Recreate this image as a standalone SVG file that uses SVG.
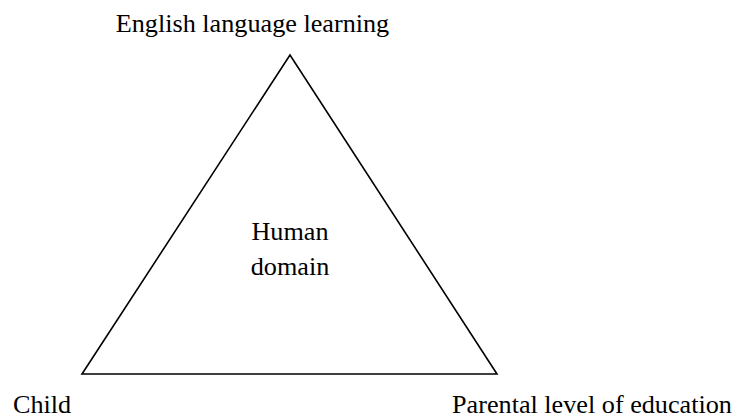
<svg xmlns="http://www.w3.org/2000/svg" width="736" height="419" viewBox="0 0 736 419">
<style>
text{font-family:"Liberation Serif","Times New Roman",serif;font-size:26.2px;fill:#000}
.edge{fill:none;stroke:#000;stroke-width:1.6;stroke-linejoin:miter}
</style>
<rect width="736" height="419" fill="#fff"/>
<g id="connectors">
<polygon class="edge" points="290,55 82,374 497,374"/>
</g>
<g id="node-english"><text x="252.5" y="32" text-anchor="middle">English language learning</text></g>
<g id="node-human"><text x="290" y="240" text-anchor="middle">Human</text><text x="290" y="275" text-anchor="middle">domain</text></g>
<g id="node-child"><text x="13" y="413">Child</text></g>
<g id="node-parental"><text x="452" y="413">Parental level of education</text></g>
</svg>
